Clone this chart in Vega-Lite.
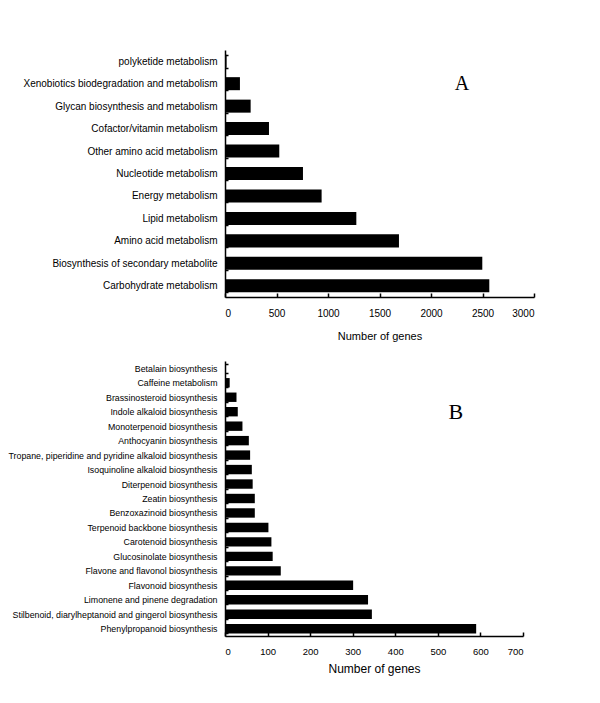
{
  "$schema": "https://vega.github.io/schema/vega-lite/v6.json",
  "padding": {"top": 45, "left": 8, "right": 5, "bottom": 5},
  "background": "white",
  "spacing": 16,
  "config": {
    "view": {"stroke": null},
    "font": "Liberation Sans",
    "axis": {"domainColor": "black", "tickColor": "black", "labelColor": "black", "titleColor": "black", "grid": false, "titleFontWeight": "normal", "domainWidth": 1.5, "tickWidth": 1.5}
  },
  "datasets": {
    "a": [
      {"pathway": "polyketide metabolism", "genes": 15},
      {"pathway": "Xenobiotics biodegradation and metabolism", "genes": 145},
      {"pathway": "Glycan biosynthesis and metabolism", "genes": 249},
      {"pathway": "Cofactor/vitamin metabolism", "genes": 427},
      {"pathway": "Other amino acid metabolism", "genes": 527},
      {"pathway": "Nucleotide metabolism", "genes": 757},
      {"pathway": "Energy metabolism", "genes": 938},
      {"pathway": "Lipid metabolism", "genes": 1275},
      {"pathway": "Amino acid metabolism", "genes": 1689},
      {"pathway": "Biosynthesis of secondary metabolite", "genes": 2498},
      {"pathway": "Carbohydrate metabolism", "genes": 2566}
    ],
    "b": [
      {"pathway": "Betalain biosynthesis", "genes": 2},
      {"pathway": "Caffeine metabolism", "genes": 11},
      {"pathway": "Brassinosteroid biosynthesis", "genes": 27},
      {"pathway": "Indole alkaloid biosynthesis", "genes": 30},
      {"pathway": "Monoterpenoid biosynthesis", "genes": 41},
      {"pathway": "Anthocyanin biosynthesis", "genes": 56},
      {"pathway": "Tropane, piperidine and pyridine alkaloid biosynthesis", "genes": 59},
      {"pathway": "Isoquinoline alkaloid biosynthesis", "genes": 63},
      {"pathway": "Diterpenoid biosynthesis", "genes": 65},
      {"pathway": "Zeatin biosynthesis", "genes": 70},
      {"pathway": "Benzoxazinoid biosynthesis", "genes": 70},
      {"pathway": "Terpenoid backbone biosynthesis", "genes": 102},
      {"pathway": "Carotenoid biosynthesis", "genes": 109},
      {"pathway": "Glucosinolate biosynthesis", "genes": 112},
      {"pathway": "Flavone and flavonol biosynthesis", "genes": 131},
      {"pathway": "Flavonoid biosynthesis", "genes": 301},
      {"pathway": "Limonene and pinene degradation", "genes": 336},
      {"pathway": "Stilbenoid, diarylheptanoid and gingerol biosynthesis", "genes": 345},
      {"pathway": "Phenylpropanoid biosynthesis", "genes": 590}
    ]
  },
  "vconcat": [
    {
      "width": 309,
      "height": 247,
      "layer": [
        {
          "data": {"name": "a"},
          "mark": {"type": "bar", "color": "black"},
          "encoding": {
            "y": {"field": "pathway", "type": "nominal", "sort": null,
              "scale": {"paddingInner": 0.42, "paddingOuter": 0.21},
              "axis": {"title": null, "tickBand": "extent", "tickSize": -3, "labelFontSize": 10, "labelPadding": 11, "labelLimit": 400}},
            "x": {"field": "genes", "type": "quantitative", "scale": {"domain": [0, 3000], "nice": false},
              "axis": {"values": [0, 500, 1000, 1500, 2000, 2500, 3000], "format": "d", "tickSize": -4, "labelFontSize": 10, "labelPadding": 15, "title": "Number of genes", "titleFontSize": 11, "titlePadding": 12}}
          }
        },
        {
          "data": {"values": [{}]},
          "mark": {"type": "text", "text": "A", "font": "Liberation Serif", "fontSize": 20, "color": "black"},
          "encoding": {
            "x": {"datum": 2300},
            "y": {"datum": "Xenobiotics biodegradation and metabolism", "type": "nominal"}
          }
        }
      ]
    },
    {
      "width": 298,
      "height": 275,
      "layer": [
        {
          "data": {"name": "b"},
          "mark": {"type": "bar", "color": "black"},
          "encoding": {
            "y": {"field": "pathway", "type": "nominal", "sort": null,
              "scale": {"paddingInner": 0.35, "paddingOuter": 0.18},
              "axis": {"title": null, "tickBand": "extent", "tickSize": -3, "labelFontSize": 8.8, "labelPadding": 11, "labelLimit": 400}},
            "x": {"field": "genes", "type": "quantitative", "scale": {"domain": [0, 700], "nice": false},
              "axis": {"values": [0, 100, 200, 300, 400, 500, 600, 700], "format": "d", "tickSize": -4, "labelFontSize": 9.5, "labelPadding": 14, "title": "Number of genes", "titleFontSize": 12, "titlePadding": 8}}
          }
        },
        {
          "data": {"values": [{}]},
          "mark": {"type": "text", "text": "B", "font": "Liberation Serif", "fontSize": 22, "color": "black"},
          "encoding": {
            "x": {"datum": 542},
            "y": {"datum": "Indole alkaloid biosynthesis", "type": "nominal"}
          }
        }
      ]
    }
  ]
}
